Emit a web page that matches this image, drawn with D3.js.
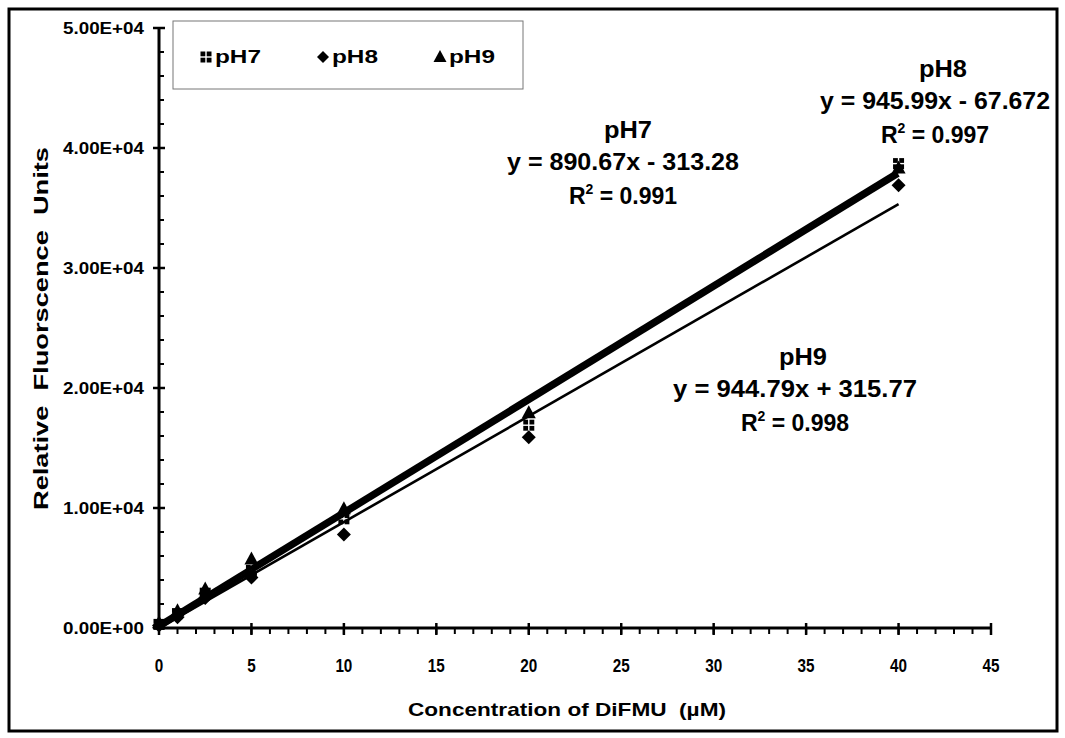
<!DOCTYPE html>
<html>
<head>
<meta charset="utf-8">
<script src="https://cdn.jsdelivr.net/npm/d3@7"></script>
<style>
  body { margin: 0; background: #fff; }
  text { font-family: "Liberation Sans", Arial, sans-serif; font-weight: bold; fill: #000; }
</style>
</head>
<body>
<svg id="chart" width="1065" height="738"></svg>
<script>
// concentrations (uM) and readings per pH
const conc = [0, 1, 2.5, 5, 10, 20, 40];
const ph7 = [300, 1200, 2900, 4800, 9100, 16900, 38700];
const ph8 = [200, 900, 2500, 4200, 7800, 15900, 36900];
const ph9 = [400, 1400, 3200, 5700, 9900, 17900, 38300];

// trendlines: slope, intercept
const fits = [
  { name: "pH7", slope: 890.67, icpt: -313.28, eq: "y = 890.67x - 313.28", r2: "0.991", w: 2.6 },
  { name: "pH8", slope: 945.99, icpt: -67.672, eq: "y = 945.99x - 67.672", r2: "0.997", w: 4 },
  { name: "pH9", slope: 944.79, icpt: 315.77, eq: "y = 944.79x + 315.77", r2: "0.998", w: 4 }
];

const xTicks = d3.range(0, 46, 5);
const yTicks = d3.range(0, 50001, 10000);

const svg = d3.select("#chart");
const margin = { left: 159, top: 28, right: 74, bottom: 110 };
const width = 1065, height = 738;

const x = d3.scaleLinear().domain([0, 45]).range([margin.left, width - margin.right]);
const y = d3.scaleLinear().domain([0, 50000]).range([height - margin.bottom, margin.top]);

// outer frame
svg.append("rect")
  .attr("x", 9).attr("y", 9)
  .attr("width", 1048).attr("height", 722)
  .attr("fill", "none").attr("stroke", "#000").attr("stroke-width", 3);

// y axis
const yAxis = svg.append("g").attr("transform", `translate(${x(0)},0)`);
yAxis.append("line").attr("y1", y(0)).attr("y2", y(50000)).attr("stroke", "#000").attr("stroke-width", 3);
yAxis.selectAll(".minor").data(d3.range(0, 50001, 2000)).enter().append("line")
  .attr("x1", 0).attr("x2", 5).attr("y1", d => y(d)).attr("y2", d => y(d))
  .attr("stroke", "#000").attr("stroke-width", 2);
yAxis.selectAll(".major").data(yTicks).enter().append("line")
  .attr("x1", -6).attr("x2", 6).attr("y1", d => y(d)).attr("y2", d => y(d))
  .attr("stroke", "#000").attr("stroke-width", 2.5);
yAxis.selectAll("text").data(yTicks).enter().append("text")
  .attr("x", -15).attr("y", d => y(d) + 6)
  .attr("text-anchor", "end").attr("font-size", 17)
  .attr("textLength", 81).attr("lengthAdjust", "spacingAndGlyphs")
  .text(d => d3.format(".2e")(d).replace("e+", "E+0").replace("e-", "E-0"));

// x axis
const xAxis = svg.append("g").attr("transform", `translate(0,${y(0)})`);
xAxis.append("line").attr("x1", x(0)).attr("x2", x(45)).attr("stroke", "#000").attr("stroke-width", 3);
xAxis.selectAll(".minor").data(d3.range(0, 46, 1)).enter().append("line")
  .attr("x1", d => x(d)).attr("x2", d => x(d)).attr("y1", 0).attr("y2", 6)
  .attr("stroke", "#000").attr("stroke-width", 2);
xAxis.selectAll(".major").data(xTicks).enter().append("line")
  .attr("x1", d => x(d)).attr("x2", d => x(d)).attr("y1", -5).attr("y2", 7)
  .attr("stroke", "#000").attr("stroke-width", 2.5);
xAxis.selectAll("text").data(xTicks).enter().append("text")
  .attr("x", d => x(d)).attr("y", 44)
  .attr("text-anchor", "middle").attr("font-size", 19)
  .attr("textLength", d => String(d).length * 8.5).attr("lengthAdjust", "spacingAndGlyphs")
  .text(d => d);

// axis titles
svg.append("text")
  .attr("x", 567).attr("y", 716).attr("text-anchor", "middle").attr("font-size", 19)
  .attr("xml:space", "preserve")
  .attr("textLength", 318).attr("lengthAdjust", "spacingAndGlyphs")
  .text("Concentration of DiFMU  (\u00b5M)");
svg.append("text")
  .attr("transform", `translate(48,${(147 + 510) / 2}) rotate(-90)`)
  .attr("text-anchor", "middle").attr("font-size", 21)
  .attr("xml:space", "preserve")
  .attr("textLength", 363).attr("lengthAdjust", "spacingAndGlyphs")
  .text("Relative  Fluorscence  Units");

// trendlines
const line = d3.line().x(d => x(d[0])).y(d => y(d[1]));
svg.append("g").selectAll("path").data(fits).enter().append("path")
  .attr("d", f => line([[0, f.icpt], [40, f.slope * 40 + f.icpt]].map(p => [p[0], Math.max(p[1], 0)])))
  .attr("fill", "none").attr("stroke", "#000").attr("stroke-width", f => f.w);

// markers
const quad = [[-5.5, -5.5], [0.7, -5.5], [-5.5, 0.7], [0.7, 0.7]];
const sq = svg.append("g");
conc.forEach((c, i) => {
  const cx = x(c), cy = y(ph7[i]);
  quad.forEach(o =>
    sq.append("rect").attr("x", cx + o[0]).attr("y", cy + o[1]).attr("width", 4.8).attr("height", 4.8).attr("fill", "#000"));
});
svg.append("g").selectAll("path").data(conc).enter().append("path")
  .attr("transform", (d, i) => `translate(${x(d)},${y(ph8[i])})`)
  .attr("d", "M0,-7L7,0L0,7L-7,0Z").attr("fill", "#000");
svg.append("g").selectAll("path").data(conc).enter().append("path")
  .attr("transform", (d, i) => `translate(${x(d)},${y(ph9[i])})`)
  .attr("d", "M0,-8L7,5L-7,5Z").attr("fill", "#000");

// legend
const lg = svg.append("g");
lg.append("rect").attr("x", 173).attr("y", 21).attr("width", 350).attr("height", 68)
  .attr("fill", "#fff").attr("stroke", "#777").attr("stroke-width", 1);
const symX = [206, 323, 440];
quad.forEach(o =>
  lg.append("rect").attr("x", symX[0] + o[0]).attr("y", 57 + o[1]).attr("width", 4.8).attr("height", 4.8).attr("fill", "#000"));
lg.append("path").attr("transform", `translate(${symX[1]},57)`).attr("d", "M0,-6L6,0L0,6L-6,0Z");
lg.append("path").attr("transform", `translate(${symX[2]},57)`).attr("d", "M0,-7L6.5,5L-6.5,5Z");
lg.selectAll("text").data(fits).enter().append("text")
  .attr("x", (d, i) => symX[i] + 9).attr("y", 63).attr("font-size", 19)
  .attr("textLength", 46).attr("lengthAdjust", "spacingAndGlyphs")
  .text(d => d.name);

// equation labels: centre x, baseline of the first line, equation width
const labelPos = [[623, 138, 232], [935, 77, 230], [795, 365, 244]];
fits.forEach((f, i) => {
  const [cx, ty, ew] = labelPos[i];
  const g = svg.append("g");
  g.append("text").attr("x", cx + (i === 0 ? 5 : 8)).attr("y", ty).attr("text-anchor", "middle").attr("font-size", 23)
    .attr("textLength", 48).attr("lengthAdjust", "spacingAndGlyphs").text(f.name);
  g.append("text").attr("x", cx).attr("y", ty + 32).attr("text-anchor", "middle").attr("font-size", 23)
    .attr("textLength", ew).attr("lengthAdjust", "spacingAndGlyphs").text(f.eq);
  const r = g.append("text").attr("x", cx).attr("y", ty + 66).attr("text-anchor", "middle").attr("font-size", 23);
  r.append("tspan").text("R");
  r.append("tspan").attr("dy", -10).attr("font-size", 14).text("2");
  r.append("tspan").attr("dy", 10).text(" = " + f.r2);
});
</script>
</body>
</html>
